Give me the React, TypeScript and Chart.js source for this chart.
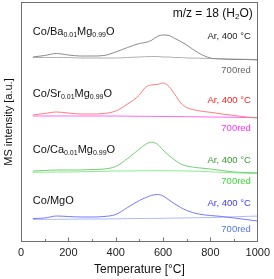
import React, { useEffect, useRef } from "react";
import { Chart, registerables } from "chart.js";

Chart.register(...registerables);

// ---- data ----
const temperatures = [50, 100, 150, 200, 250, 300, 350, 400, 450, 500, 525, 550, 575, 600, 625, 650, 675, 700, 750, 800, 850, 900, 950, 1000];

const baAr = [185, 186.5, 188.5, 187, 186, 186, 186.5, 190, 194.5, 198.5, 199.5, 201.5, 205.5, 207, 206.5, 203.5, 200.5, 197, 189, 184, 183, 182.5, 182.5, 182];
const baRed = [184.5, 184.5, 184.5, 184.5, 184, 184, 184, 184, 184.5, 185, 185.3, 185.5, 185.5, 185, 185, 184.5, 184.5, 184, 183.8, 183.5, 183.2, 183, 182.7, 182.5];

const srAr = [127, 128.5, 130, 129, 128, 128, 128.5, 131, 138, 147, 154.5, 157, 157.5, 159, 155.5, 147.5, 139, 134.5, 131.3, 129.7, 128, 126.5, 125, 124];
const srRed = [126, 126, 126, 126, 126, 126, 126, 126, 125.8, 125.7, 125.7, 125.6, 125.6, 125.5, 125.5, 125.4, 125.4, 125.3, 125.2, 125, 124.9, 124.7, 124.5, 124.3];

const caAr = [71, 71.5, 72, 72, 72, 72.5, 73, 75.5, 83.5, 93, 97.5, 99.7, 98, 92, 86.5, 82, 78, 76, 74.2, 73, 71.5, 70, 69.5, 69];
const caRed = [69.7, 69.8, 70, 70, 70.2, 70.5, 70.7, 71, 71, 71.2, 71.2, 71.3, 71.3, 71.3, 71.2, 71.2, 71.1, 71, 70.7, 70.2, 69.7, 69.2, 68.8, 68.5];

const mgAr = [23.5, 24, 26, 25.5, 25, 25, 25.5, 27.5, 34.5, 41.5, 44.2, 46.5, 47.5, 46, 42, 38, 34.5, 31.5, 28, 26.5, 25.5, 24, 22.5, 21];
const mgRed = [22.5, 22.6, 22.7, 22.8, 22.9, 23, 23, 23.2, 23.4, 23.5, 23.5, 23.6, 23.6, 23.7, 23.8, 23.9, 24, 24.1, 24.3, 24.5, 24.8, 25.2, 25.6, 26];

const xTickValues = [0, 200, 400, 600, 800, 1000];

// sample names as [text, isSubscript] segments
const sampleNames: [string, boolean][][] = [
  [["Co/Ba", false], ["0.01", true], ["Mg", false], ["0.99", true], ["O", false]],
  [["Co/Sr", false], ["0.01", true], ["Mg", false], ["0.99", true], ["O", false]],
  [["Co/Ca", false], ["0.01", true], ["Mg", false], ["0.99", true], ["O", false]],
  [["Co/MgO", false]],
];
const arLabel = "Ar, 400 °C";
const redLabel = "700red";
const titleSegments: [string, boolean][] = [["m/z = 18 (H", false], ["2", true], ["O)", false]];

const FONT = "'Liberation Sans', Arial, sans-serif";

// layout of annotations (data coordinates)
const nameY = [210, 148, 92, 41];
const arY = [206, 142, 82, 38.7];
const redY = [172, 113.7, 60.3, 12.7];
const arColors = ["#222222", "#ff1a1a", "#2e9e2e", "#3a3aff"];
const redColors = ["#666666", "#ff33ff", "#33dd33", "#5577ee"];

function segWidth(ctx: CanvasRenderingContext2D, segs: [string, boolean][], size: number, subSize: number) {
  let w = 0;
  for (const [t, sub] of segs) {
    ctx.font = `${sub ? subSize : size}px ${FONT}`;
    w += ctx.measureText(t).width;
  }
  return w;
}

function drawSegs(ctx: CanvasRenderingContext2D, segs: [string, boolean][], x: number, y: number, size: number, subSize: number) {
  let cx = x;
  ctx.textAlign = "left";
  ctx.textBaseline = "middle";
  for (const [t, sub] of segs) {
    ctx.font = `${sub ? subSize : size}px ${FONT}`;
    ctx.fillText(t, cx, sub ? y + 3 : y);
    cx += ctx.measureText(t).width;
  }
}

const decorPlugin = {
  id: "decor",
  afterDatasetsDraw(chart: any) {
    const { ctx, chartArea, scales } = chart;
    const xs = scales.x;
    const ys = scales.y;
    ctx.save();
    // frame
    ctx.strokeStyle = "#707070";
    ctx.lineWidth = 1;
    const l = Math.round(chartArea.left) + 0.5;
    const t = Math.round(chartArea.top) + 0.5;
    const r = Math.round(chartArea.right) - 0.5;
    const b = Math.round(chartArea.bottom) - 0.5;
    ctx.strokeRect(l, t, r - l, b - t);
    // inward ticks
    for (let v = 100; v < 1000; v += 100) {
      const px = Math.round(xs.getPixelForValue(v)) + 0.5;
      const len = v % 200 === 0 ? 4 : 2.5;
      ctx.beginPath();
      ctx.moveTo(px, b);
      ctx.lineTo(px, b - len);
      ctx.stroke();
    }
    // title
    ctx.fillStyle = "#111111";
    const tw = segWidth(ctx, titleSegments, 12, 8);
    drawSegs(ctx, titleSegments, xs.getPixelForValue(979) - tw, ys.getPixelForValue(228), 12, 8);
    // names
    for (let i = 0; i < sampleNames.length; i++) {
      ctx.fillStyle = "#111111";
      drawSegs(ctx, sampleNames[i], xs.getPixelForValue(50), ys.getPixelForValue(nameY[i]), 11, 7);
    }
    // right labels
    ctx.font = `9.5px ${FONT}`;
    ctx.textAlign = "right";
    ctx.textBaseline = "middle";
    const rx = xs.getPixelForValue(971);
    for (let i = 0; i < 4; i++) {
      ctx.fillStyle = arColors[i];
      ctx.fillText(arLabel, rx, ys.getPixelForValue(arY[i]));
      ctx.fillStyle = redColors[i];
      ctx.fillText(redLabel, rx, ys.getPixelForValue(redY[i]));
    }
    ctx.restore();
  },
};

function series(label: string, values: number[], color: string) {
  return {
    label,
    data: temperatures.map((t, i) => ({ x: t, y: values[i] })),
    borderColor: color,
    borderWidth: 1,
    pointRadius: 0,
    fill: false,
    cubicInterpolationMode: "monotone" as const,
  };
}

export default function App() {
  const ref = useRef<HTMLCanvasElement | null>(null);
  useEffect(() => {
    if (!ref.current) return;
    const chart = new Chart(ref.current, {
      type: "line",
      data: {
        datasets: [
          series("Ba Ar", baAr, "#8a8a8a"),
          series("Ba 700red", baRed, "#b0b0b0"),
          series("Sr Ar", srAr, "#ff7a7a"),
          series("Sr 700red", srRed, "#ff66ff"),
          series("Ca Ar", caAr, "#77cc77"),
          series("Ca 700red", caRed, "#88ee88"),
          series("Mg Ar", mgAr, "#7777ff"),
          series("Mg 700red", mgRed, "#aabbff"),
        ],
      },
      options: {
        responsive: false,
        animation: false,
        layout: { padding: { top: 2, right: 15, left: 0, bottom: 0 } },
        plugins: { legend: { display: false }, tooltip: { enabled: false } },
        scales: {
          x: {
            type: "linear",
            min: 0,
            max: 1000,
            afterFit: (s: any) => { s.height = 37; },
            afterBuildTicks: (s: any) => { s.ticks = xTickValues.map((v) => ({ value: v })); },
            grid: { display: false, drawTicks: false },
            border: { display: false },
            ticks: {
              padding: 4,
              autoSkip: false,
              maxRotation: 0,
              color: "#222222",
              font: { family: FONT, size: 11 },
              callback: (v: any) => String(v),
            },
            title: {
              display: true,
              text: "Temperature [°C]",
              color: "#111111",
              font: { family: FONT, size: 12 },
              padding: { top: 0, bottom: 2 },
            },
          },
          y: {
            min: 0,
            max: 240,
            afterFit: (s: any) => { s.width = 21; },
            grid: { display: false, drawTicks: false },
            border: { display: false },
            ticks: { display: false },
            title: {
              display: true,
              text: "MS intensity [a.u.]",
              color: "#111111",
              font: { family: FONT, size: 11 },
              padding: { top: 2, bottom: 0 },
            },
          },
        },
      },
      plugins: [decorPlugin],
    });
    return () => chart.destroy();
  }, []);
  return (
    <div style={{ position: "absolute", left: 0, top: 0, width: 274, height: 279, background: "#fff" }}>
      <canvas ref={ref} width={274} height={279} />
    </div>
  );
}
